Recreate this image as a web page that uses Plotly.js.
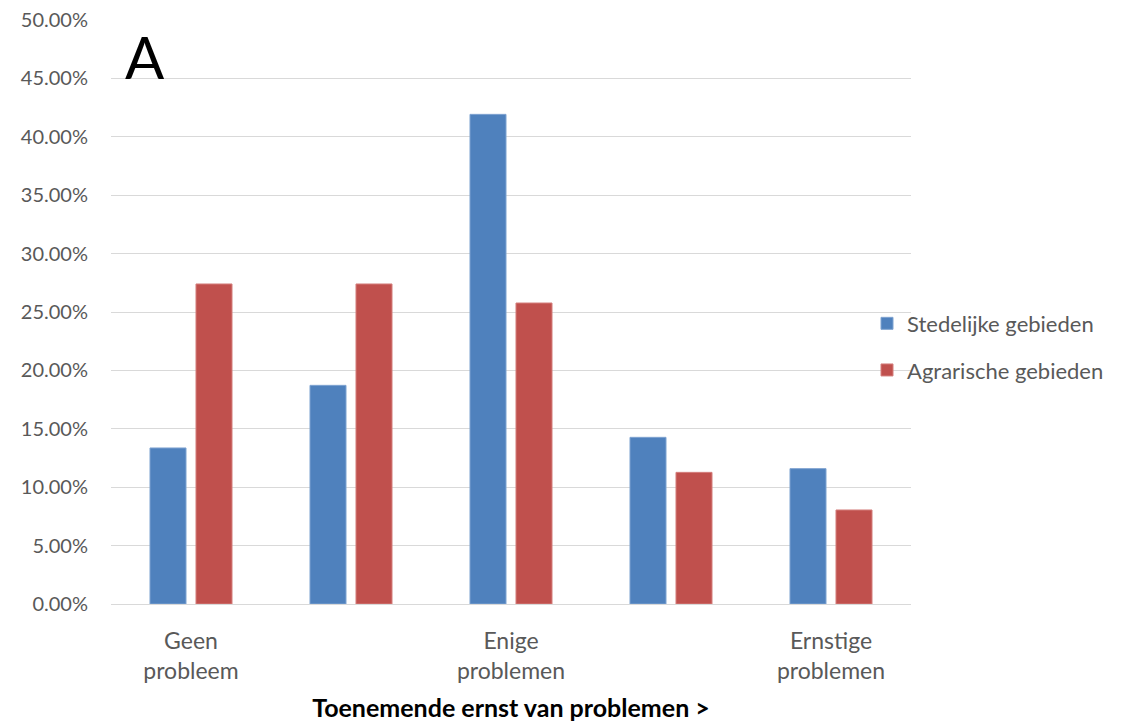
<!DOCTYPE html>
<html>
<head>
<meta charset="utf-8">
<script src="https://cdn.plot.ly/plotly-3.0.1.min.js"></script>
<style>html,body{margin:0;padding:0;background:#fff;}#chart{width:1121px;height:722px;}</style>
</head>
<body>
<div id="chart"></div>
<script>
const categories = ["Geen<br>probleem", "", "Enige<br>problemen", "", "Ernstige<br>problemen"];
const seriesNames = ["Stedelijke gebieden", "Agrarische gebieden"];
const stedelijke = [0.1336, 0.1872, 0.4192, 0.1427, 0.1159];
const agrarische = [0.2740, 0.2740, 0.2577, 0.1127, 0.0805];
const xTitle = "Toenemende ernst van problemen >";
const panelLabel = "A";

const xs = categories.map((c, i) => i);
const tickIdx = xs.filter(i => categories[i] !== "");

const font = "Lato, 'Open Sans', sans-serif";

const data = [
  {type: "bar", name: seriesNames[0], x: xs, y: stedelijke, legendgroup: "g1",
   marker: {color: "#4f81bd", line: {color: "#7fa3d1", width: 1}}},
  {type: "bar", name: seriesNames[1], x: xs, y: agrarische, legendgroup: "g2",
   marker: {color: "#c0504d", line: {color: "#d47f7d", width: 1}}}
];

const layout = {
  width: 1121, height: 722,
  margin: {l: 111, r: 210, t: 20, b: 118},
  paper_bgcolor: "#fff", plot_bgcolor: "#fff",
  font: {family: font, color: "#595959", size: 20},
  barmode: "group", bargap: 0.425, bargroupgap: 0.217,
  xaxis: {
    range: [-0.5, 4.5], tickvals: tickIdx, ticktext: tickIdx.map(i => categories[i]),
    showgrid: false, zeroline: false, showline: true, linecolor: "#d9d9d9", linewidth: 1,
    ticks: "", tickfont: {size: 23, color: "#595959", family: font},
    ticklabelstandoff: 16,
    title: {text: xTitle, font: {size: 25, color: "#000", family: font, weight: "bold"}, standoff: 16}
  },
  yaxis: {
    range: [0, 0.5], dtick: 0.05, tickformat: ".2%",
    showgrid: true, gridcolor: "#d9d9d9", gridwidth: 1, zeroline: false,
    showline: false, ticks: "", tickfont: {size: 20, color: "#595959", family: font},
    ticklabelstandoff: 22
  },
  legend: {x: 0.945, xanchor: "left", y: 0.44, yanchor: "middle",
    font: {size: 22, color: "#595959", family: font}, tracegroupgap: 15,
    bgcolor: "rgba(255,255,255,0)", itemwidth: 30},
  annotations: [{text: panelLabel, xref: "paper", yref: "paper", x: 0.015, y: 1.0,
    xanchor: "left", yanchor: "top", showarrow: false,
    font: {size: 58, color: "#000", family: font}}]
};

Plotly.newPlot("chart", data, layout, {displayModeBar: false, staticPlot: true});
</script>
</body>
</html>
